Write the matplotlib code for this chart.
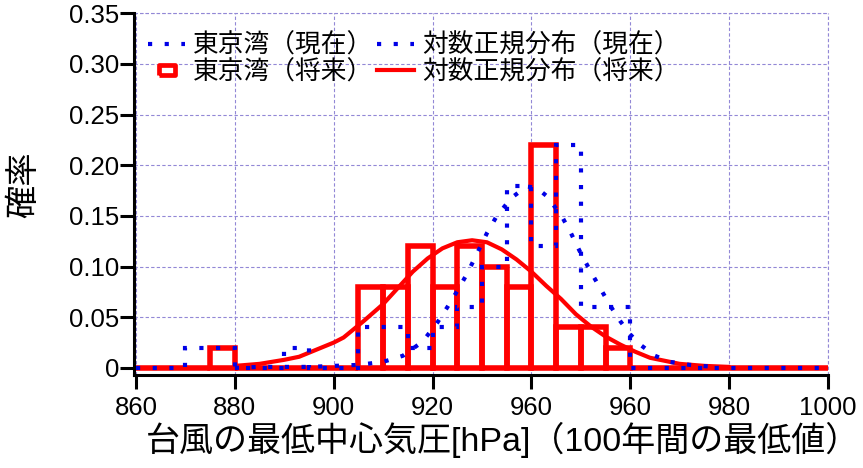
import matplotlib
matplotlib.use("Agg")
import matplotlib.pyplot as plt
from matplotlib.lines import Line2D
import numpy as np

plt.rcParams['font.family'] = ['Liberation Sans', 'Noto Sans CJK JP']

# ---- data ----
bin_edges = [860 + 5 * i for i in range(29)]  # 860..1000, 5 hPa bins
# 東京湾(将来) histogram (probability per 5 hPa bin)
future_hist = [0, 0, 0, 0.02, 0, 0, 0, 0, 0,
               0.08, 0.08, 0.12, 0.08, 0.12, 0.10, 0.08, 0.22, 0.04, 0.04, 0.02,
               0, 0, 0, 0, 0, 0, 0, 0]
# 東京湾(現在) histogram
current_hist = [0, 0, 0.02, 0.02, 0, 0, 0.02, 0, 0,
                0.04, 0.04, 0.02, 0.04, 0.06, 0.10, 0.18, 0.12, 0.22, 0.06, 0.06,
                0, 0, 0, 0, 0, 0, 0, 0]
# 対数正規分布(現在)
cur_fit_x = [880, 885, 890, 895, 900, 905, 910, 914, 918, 921, 923, 925, 927, 929,
             931, 933, 936, 939, 941, 943, 946, 948, 950, 952, 954, 956, 958, 960,
             962, 965, 968, 972, 977]
cur_fit_y = [0.000, 0.001, 0.001, 0.001, 0.002, 0.003, 0.006, 0.012, 0.026, 0.045,
             0.060, 0.076, 0.093, 0.113, 0.133, 0.150, 0.168, 0.179, 0.178, 0.170,
             0.151, 0.133, 0.113, 0.095, 0.078, 0.061, 0.046, 0.033, 0.023, 0.012,
             0.006, 0.003, 0.001]
# 対数正規分布(将来)
fut_fit_x = [880, 885, 890, 893, 896, 900, 902, 906, 910, 913, 916, 919, 922, 925,
             928, 931, 934, 937, 940, 943, 946, 949, 952, 955, 958, 961, 964, 967,
             970, 975, 980]
fut_fit_y = [0.002, 0.004, 0.008, 0.011, 0.017, 0.025, 0.030, 0.046, 0.063, 0.079,
             0.095, 0.108, 0.118, 0.124, 0.126, 0.124, 0.117, 0.107, 0.095, 0.081,
             0.068, 0.053, 0.041, 0.031, 0.023, 0.016, 0.010, 0.007, 0.004, 0.002,
             0.001]

xticks = [860, 880, 900, 920, 940, 960, 980, 1000]
xtick_labels = ['860', '880', '900', '920', '960', '960', '980', '1000']
yticks = [0, 0.05, 0.10, 0.15, 0.20, 0.25, 0.30, 0.35]
ytick_labels = ['0', '0.05', '0.10', '0.15', '0.20', '0.25', '0.30', '0.35']

labels = ['東京湾（現在）', '東京湾（将来）', '対数正規分布（現在）', '対数正規分布（将来）']

# ---- figure ----
fig = plt.figure(figsize=(8.63, 4.68), dpi=100)
ax = fig.add_axes([0.1553, 0.1987, 0.8041, 0.7729])

RED = '#ff0000'
BLUE = '#0000e6'
GRID = '#9288d6'

lefts = bin_edges[:-1]
ax.bar(lefts, future_hist, width=5, align='edge', fill=False, edgecolor=RED,
       linewidth=4.0, zorder=3)
ax.plot(fut_fit_x, fut_fit_y, color=RED, lw=3.0, zorder=4, solid_capstyle='round')
ax.stairs(current_hist, bin_edges, color=BLUE, lw=3.0, linestyle=(0, (1, 3)),
          zorder=5)
ax.plot(cur_fit_x, cur_fit_y, color=BLUE, lw=3.0, linestyle=(0, (1, 3)),
        dash_capstyle='butt', zorder=5)

ax.set_xlim(859.6, 1000)
ax.set_ylim(-0.007, 0.35)
ax.set_xticks(xticks)
ax.set_xticklabels(xtick_labels)
ax.set_yticks(yticks)
ax.set_yticklabels(ytick_labels)
ax.tick_params(axis='both', direction='out', length=10, width=2.2, labelsize=18.5,
               colors='black')
ax.tick_params(axis='x', pad=5)
ax.tick_params(axis='y', pad=0.5)

ax.grid(True, color=GRID, linestyle=(0, (3, 2)), linewidth=0.8, zorder=0)
ax.set_axisbelow(True)
for s in ['top', 'right']:
    ax.spines[s].set_visible(False)
for s in ['left', 'bottom']:
    ax.spines[s].set_linewidth(2.2)
    ax.spines[s].set_color('black')
# grid lines at the upper / right boundaries
ax.axhline(0.35, color=GRID, linestyle=(0, (3, 2)), linewidth=0.8, zorder=0, clip_on=False)
ax.axvline(1000, color=GRID, linestyle=(0, (3, 2)), linewidth=0.8, zorder=0, clip_on=False)

ax.set_xlabel('台風の最低中心気圧[hPa]（100年間の最低値）', fontsize=24.5)
ax.xaxis.set_label_coords(0.532, -0.13)
ax.set_ylabel('確率', fontsize=24)
ax.yaxis.set_label_coords(-0.135, 0.525)

handles = [
    Line2D([], [], color=BLUE, lw=3.0, linestyle=(0, (1, 3)), dash_capstyle='butt'),
    Line2D([], [], linestyle='none',
           marker=[(-1.4, -0.9), (1.4, -0.9), (1.4, 0.9), (-1.4, 0.9), (-1.4, -0.9)],
           markersize=11, markerfacecolor='white', markeredgecolor=RED,
           markeredgewidth=3.4),
    Line2D([], [], color=BLUE, lw=3.0, linestyle=(0, (1, 3)), dash_capstyle='butt'),
    Line2D([], [], color=RED, lw=3.0),
]
leg = ax.legend(handles, labels, ncol=2, loc='upper left',
                bbox_to_anchor=(0.02, 0.945), frameon=False, fontsize=18.5,
                handlelength=1.45, handletextpad=0.3, columnspacing=0.15,
                labelspacing=0.08, borderpad=0.0, borderaxespad=0.0)

fig.savefig('out.png', dpi=100)
